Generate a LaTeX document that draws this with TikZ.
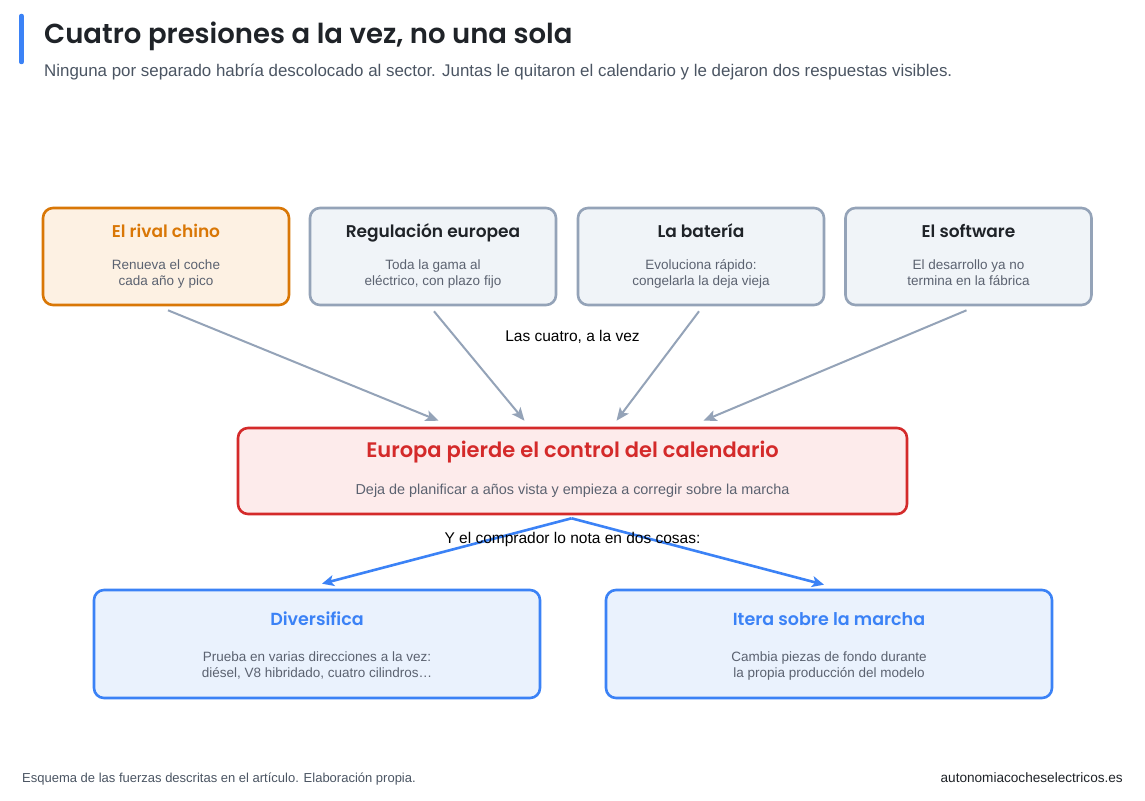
\documentclass[tikz,border=0pt]{standalone}
\usepackage{fontspec}
\setmainfont{Liberation Sans}
\newfontfamily\headfont{Poppins}[BoldFont={* SemiBold}]
\usetikzlibrary{arrows.meta,calc}
\definecolor{accent}{HTML}{3B82F6}
\definecolor{ink}{HTML}{1F2328}
\definecolor{subgray}{HTML}{4B5563}
\definecolor{bodygray}{HTML}{5B6270}
\definecolor{orgline}{HTML}{D97706}
\definecolor{orgfill}{HTML}{FDF1E3}
\definecolor{slateline}{HTML}{94A3B8}
\definecolor{slatefill}{HTML}{F0F4F8}
\definecolor{redline}{HTML}{D42A2A}
\definecolor{redfill}{HTML}{FDEBEB}
\definecolor{bluefill}{HTML}{EAF2FD}
\tikzset{
  card/.style={draw, rounded corners=10pt, line width=2.6pt, inner sep=0pt},
  cardtitle/.style={font=\headfont\bfseries\fontsize{17}{20}\selectfont, inner sep=0pt, text height=12pt, text depth=4pt},
  cardbody/.style={font=\fontsize{13.5}{16}\selectfont, text=bodygray, align=center, inner sep=0pt},
  greyarrow/.style={draw=slateline, line width=2pt, -{Stealth[length=13pt,width=11pt,inset=3pt]}},
  bluearrow/.style={draw=accent, line width=2.6pt, -{Stealth[length=12pt,width=11pt,inset=3pt]}},
  flowlabel/.style={font=\fontsize{15.5}{18}\selectfont, text=black, inner sep=0pt}
}
\begin{document}
\begin{tikzpicture}[x=1pt,y=-1pt]
\useasboundingbox[fill=white] (0,0) rectangle (1145,800);

% header
\draw[accent, line width=4.5pt, line cap=round] (21.5,16) -- (21.5,62);
\node[anchor=base west, inner sep=0pt, text=ink, font=\headfont\bfseries\fontsize{27.5}{32}\selectfont] (title) at (44,44) {Cuatro presiones a la vez, no una sola};
\node[anchor=base west, inner sep=0pt, text=subgray, font=\fontsize{16.9}{19}\selectfont] (subtitle) at (44,76) {Ninguna por separado habría descolocado al sector. Juntas le quitaron el calendario y le dejaron dos respuestas visibles.};

% top cards
\node[card, draw=orgline, fill=orgfill, minimum width=246pt, minimum height=97pt] (c1) at (166,256.5) {};
\node[card, draw=slateline, fill=slatefill, minimum width=246pt, minimum height=97pt] (c2) at (433,256.5) {};
\node[card, draw=slateline, fill=slatefill, minimum width=246pt, minimum height=97pt] (c3) at (701,256.5) {};
\node[card, draw=slateline, fill=slatefill, minimum width=246pt, minimum height=97pt] (c4) at (968.5,256.5) {};

\node[cardtitle, text=orgline] (t1) at (166,233.5) {El rival chino};
\node[cardtitle, text=ink] (t2) at (433,233.5) {Regulación europea};
\node[cardtitle, text=ink] (t3) at (701,233.5) {La batería};
\node[cardtitle, text=ink] (t4) at (968.5,233.5) {El software};

\node[cardbody] (b1) at (166,274.3) {\strut Renueva el coche\\cada año y pico\strut};
\node[cardbody] (b2) at (433,274.3) {\strut Toda la gama al\\eléctrico, con plazo fijo\strut};
\node[cardbody] (b3) at (701,274.3) {\strut Evoluciona rápido:\\congelarla la deja vieja\strut};
\node[cardbody] (b4) at (968.5,274.3) {\strut El desarrollo ya no\\termina en la fábrica\strut};

% center card
\node[card, draw=redline, fill=redfill, minimum width=669pt, minimum height=86pt] (ctr) at (572.5,471) {};
\node[font=\headfont\bfseries\fontsize{21}{24}\selectfont, text=redline, inner sep=0pt] (ctrtitle) at (572.5,452.5) {Europa pierde el control del calendario};
\node[font=\fontsize{14.4}{16}\selectfont, text=bodygray, inner sep=0pt] (ctrbody) at (572.5,491) {Deja de planificar a años vista y empieza a corregir sobre la marcha};

% bottom cards
\node[card, draw=accent, fill=bluefill, minimum width=446pt, minimum height=108pt] (d1) at (317,644) {};
\node[card, draw=accent, fill=bluefill, minimum width=446pt, minimum height=108pt] (d2) at (829,644) {};
\node[cardtitle, text=accent, font=\headfont\bfseries\fontsize{17.5}{20}\selectfont] (dt1) at (317,621.5) {Diversifica};
\node[cardtitle, text=accent, font=\headfont\bfseries\fontsize{17.5}{20}\selectfont] (dt2) at (829,621.5) {Itera sobre la marcha};
\node[cardbody] (db1) at (317,666.3) {\strut Prueba en varias direcciones a la vez:\\diésel, V8 hibridado, cuatro cilindros…\strut};
\node[cardbody] (db2) at (829,666.3) {\strut Cambia piezas de fondo durante\\la propia producción del modelo\strut};

% connector endpoints
\coordinate (s1) at ($(c1.south)+(2,4)$);
\coordinate (s2) at ($(c2.south)+(1,5)$);
\coordinate (s3) at ($(c3.south)+(-2,5)$);
\coordinate (s4) at ($(c4.south)+(-2,4)$);
\coordinate (e1) at ($(ctr.north)+(-134,-6)$);
\coordinate (e2) at ($(ctr.north)+(-48,-6)$);
\coordinate (e3) at ($(ctr.north)+(44,-6)$);
\coordinate (e4) at ($(ctr.north)+(131,-6)$);
\coordinate (bs) at ($(ctr.south)+(-1,3)$);
\coordinate (f1) at ($(d1.north)+(5,-5)$);
\coordinate (f2) at ($(d2.north)+(-5,-4)$);

\draw[greyarrow] (s1) -- (e1);
\draw[greyarrow] (s2) -- (e2);
\draw[greyarrow] (s3) -- (e3);
\draw[greyarrow] (s4) -- (e4);
\node[flowlabel] (lab1) at (572.5,337) {Las cuatro, a la vez};

\draw[bluearrow] (bs) -- (f1);
\draw[bluearrow] (bs) -- (f2);
\node[flowlabel] (lab2) at (572.5,539) {Y el comprador lo nota en dos cosas:};

% footer
\node[anchor=base west, inner sep=0pt, text=subgray, font=\fontsize{13}{14}\selectfont] (foot1) at (22,782) {Esquema de las fuerzas descritas en el artículo. Elaboración propia.};
\node[anchor=base east, inner sep=0pt, text=ink, font=\fontsize{13.6}{14}\selectfont] (foot2) at (1123,782) {autonomiacocheselectricos.es};
\end{tikzpicture}
\end{document}
